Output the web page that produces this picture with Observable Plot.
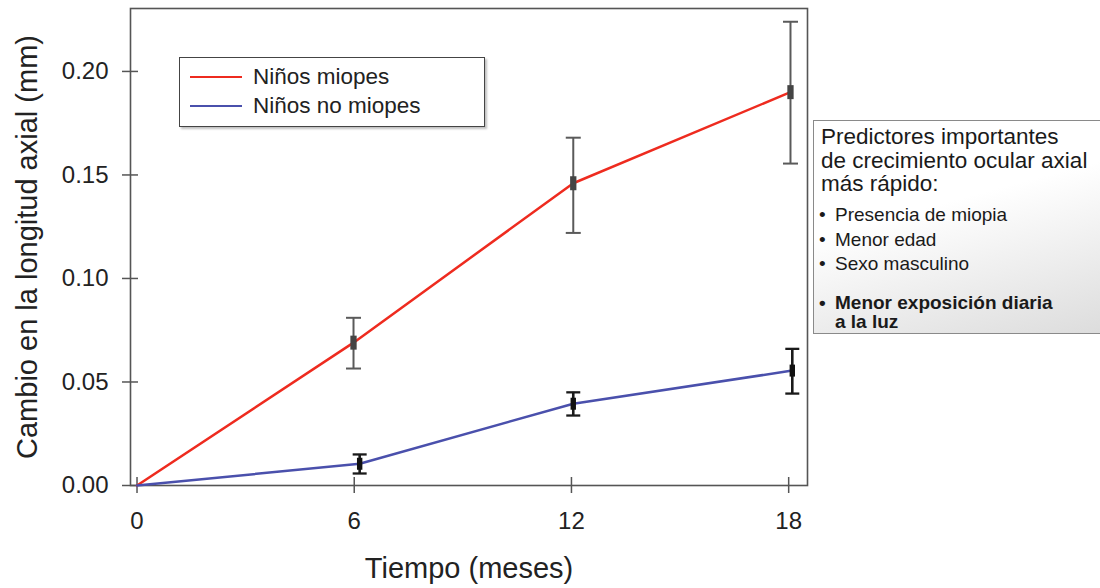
<!DOCTYPE html>
<html><head><meta charset="utf-8">
<script src="https://cdn.jsdelivr.net/npm/d3@7"></script>
<script src="https://cdn.jsdelivr.net/npm/@observablehq/plot@0.6"></script>
<style>
body{margin:0;background:#fff;font-family:"Liberation Sans",Arial,sans-serif;}
#wrap{position:relative;width:1100px;height:588px;overflow:hidden;}
#legend{position:absolute;left:179px;top:57px;width:306px;height:70px;border:1.5px solid #444;box-shadow:2px 2px 2px rgba(0,0,0,0.25);background:#fff;box-sizing:border-box;}
.row{position:absolute;left:0;height:24px;display:flex;align-items:center;font-size:22.5px;color:#222;white-space:nowrap;}
.sw{width:52px;height:2.5px;margin-left:10px;margin-right:11px;}
#box{position:absolute;left:813px;top:120px;width:300px;height:214px;border:1.5px solid #8a8a8a;background:linear-gradient(165deg,#fff 40%,#dcdcdc);box-sizing:border-box;color:#1a1a1a;}
#box .t{position:absolute;left:7px;top:4px;font-size:22.5px;line-height:23.5px;white-space:nowrap;}
#box .b{position:absolute;left:5px;font-size:19px;white-space:nowrap;}
#box .b div{display:flex;}
#box .b span.dot{width:16px;display:inline-block;}
</style></head>
<body>
<div id="wrap">
  <div id="chart"></div>
  <div id="legend"></div>
  <div id="box"></div>
</div>
<script>
// ---- data ----
const months = [0, 6, 12, 18];
const redMonths = [0, 5.98, 12.05, 18.05];
const blueMonths = [0, 6.15, 12.05, 18.1];
const redMean = [0, 0.069, 0.146, 0.190];
const redLo = [0, 0.0565, 0.122, 0.1555];
const redHi = [0, 0.081, 0.168, 0.224];
const blueMean = [0, 0.0105, 0.0395, 0.0555];
const blueLo = [0, 0.0058, 0.0338, 0.0444];
const blueHi = [0, 0.015, 0.045, 0.066];
const seriesNames = ["Niños miopes", "Niños no miopes"];
const seriesColors = ["#ee2b1f", "#4a50ac"];
const yTicks = [0, 0.05, 0.10, 0.15, 0.20];
const xTicks = [0, 6, 12, 18];
const yTitle = "Cambio en la longitud axial (mm)";
const xTitle = "Tiempo (meses)";
const boxTitle = ["Predictores importantes", "de crecimiento ocular axial", "más rápido:"];
const boxItems = ["Presencia de miopia", "Menor edad", "Sexo masculino"];
const boxBold = ["Menor exposición diaria", "a la luz"];

const red = months.map((m, i) => ({x: redMonths[i], y: redMean[i], lo: redLo[i], hi: redHi[i]}));
const blue = months.map((m, i) => ({x: blueMonths[i], y: blueMean[i], lo: blueLo[i], hi: blueHi[i]}));
const redBars = red.filter(d => d.hi > d.lo);
const blueBars = blue.filter(d => d.hi > d.lo);

const cap = {draw(ctx, size) { const w = Math.sqrt(size / Math.PI); ctx.moveTo(-w, 0); ctx.lineTo(w, 0); }};
const block = {draw(ctx, size) { const w = Math.sqrt(size / Math.PI); ctx.rect(-w * 0.45, -w, w * 0.9, 2 * w); }};

const font = "Liberation Sans, Arial, sans-serif";
const chart = Plot.plot({
  width: 1100, height: 588,
  marginLeft: 130, marginRight: 293, marginTop: 8, marginBottom: 103,
  style: {fontFamily: font, color: "#222", background: "transparent"},
  x: {domain: [-0.18, 18.52]},
  y: {domain: [0, 0.2304]},
  marks: [
    Plot.frame({stroke: "#555", strokeWidth: 1.6}),
    Plot.axisY({ticks: yTicks, tickFormat: d3.format(".2f"), tickSize: 8, tickPadding: 14, fontSize: 24, stroke: "#555", strokeWidth: 1.5, label: null}),
    Plot.axisY({ticks: yTicks, tickFormat: () => "", tickSize: 8, dx: 8, stroke: "#555", strokeWidth: 1.5, label: null}),
    Plot.axisX({ticks: xTicks, tickSize: 8, tickPadding: 18, fontSize: 24, stroke: "#555", strokeWidth: 1.5, label: null}),
    Plot.axisX({ticks: xTicks, tickFormat: () => "", tickSize: 8, dy: -8, stroke: "#555", strokeWidth: 1.5, label: null}),
    Plot.text([yTitle], {frameAnchor: "left", textAnchor: "middle", lineAnchor: "middle", rotate: -90, dx: -103, fontSize: 29, fill: "#222"}),
    Plot.text([xTitle], {frameAnchor: "bottom", textAnchor: "middle", lineAnchor: "middle", dy: 83, fontSize: 29, fill: "#222"}),
    Plot.line(red, {x: "x", y: "y", stroke: seriesColors[0], strokeWidth: 2.5}),
    Plot.line(blue, {x: "x", y: "y", stroke: seriesColors[1], strokeWidth: 2.5}),
    Plot.ruleX(redBars, {x: "x", y1: "lo", y2: "hi", stroke: "#5a5a5a", strokeWidth: 2}),
    Plot.dot(redBars, {x: "x", y: "lo", symbol: cap, r: 7.5, stroke: "#5a5a5a", strokeWidth: 2, fill: "none"}),
    Plot.dot(redBars, {x: "x", y: "hi", symbol: cap, r: 7.5, stroke: "#5a5a5a", strokeWidth: 2, fill: "none"}),
    Plot.dot(redBars, {x: "x", y: "y", symbol: block, r: 7, fill: "#444", stroke: "none"}),
    Plot.ruleX(blueBars, {x: "x", y1: "lo", y2: "hi", stroke: "#1a1a1a", strokeWidth: 2.6}),
    Plot.dot(blueBars, {x: "x", y: "lo", symbol: cap, r: 7, stroke: "#1a1a1a", strokeWidth: 2.3, fill: "none"}),
    Plot.dot(blueBars, {x: "x", y: "hi", symbol: cap, r: 7, stroke: "#1a1a1a", strokeWidth: 2.3, fill: "none"}),
    Plot.dot(blueBars, {x: "x", y: "y", symbol: block, r: 6, fill: "#111", stroke: "none"})
  ]
});
document.getElementById("chart").appendChild(chart);

// legend
const legend = document.getElementById("legend");
seriesNames.forEach((name, i) => {
  const row = document.createElement("div");
  row.className = "row";
  row.style.top = (i === 0 ? 7 : 36) + "px";
  row.innerHTML = `<span class="sw" style="background:${seriesColors[i]}"></span><span>${name}</span>`;
  legend.appendChild(row);
});

// predictor box
const box = document.getElementById("box");
const t = document.createElement("div");
t.className = "t";
t.innerHTML = boxTitle.map(s => `<div>${s}</div>`).join("");
box.appendChild(t);
const b1 = document.createElement("div");
b1.className = "b";
b1.style.top = "82px";
b1.style.lineHeight = "24.5px";
b1.innerHTML = boxItems.map(s => `<div><span class="dot">•</span><span>${s}</span></div>`).join("");
box.appendChild(b1);
const b2 = document.createElement("div");
b2.className = "b";
b2.style.top = "172px";
b2.style.lineHeight = "19px";
b2.style.fontWeight = "bold";
b2.innerHTML = `<div><span class="dot">•</span><span>${boxBold[0]}</span></div><div><span class="dot"></span><span>${boxBold[1]}</span></div>`;
box.appendChild(b2);
</script>
</body></html>
